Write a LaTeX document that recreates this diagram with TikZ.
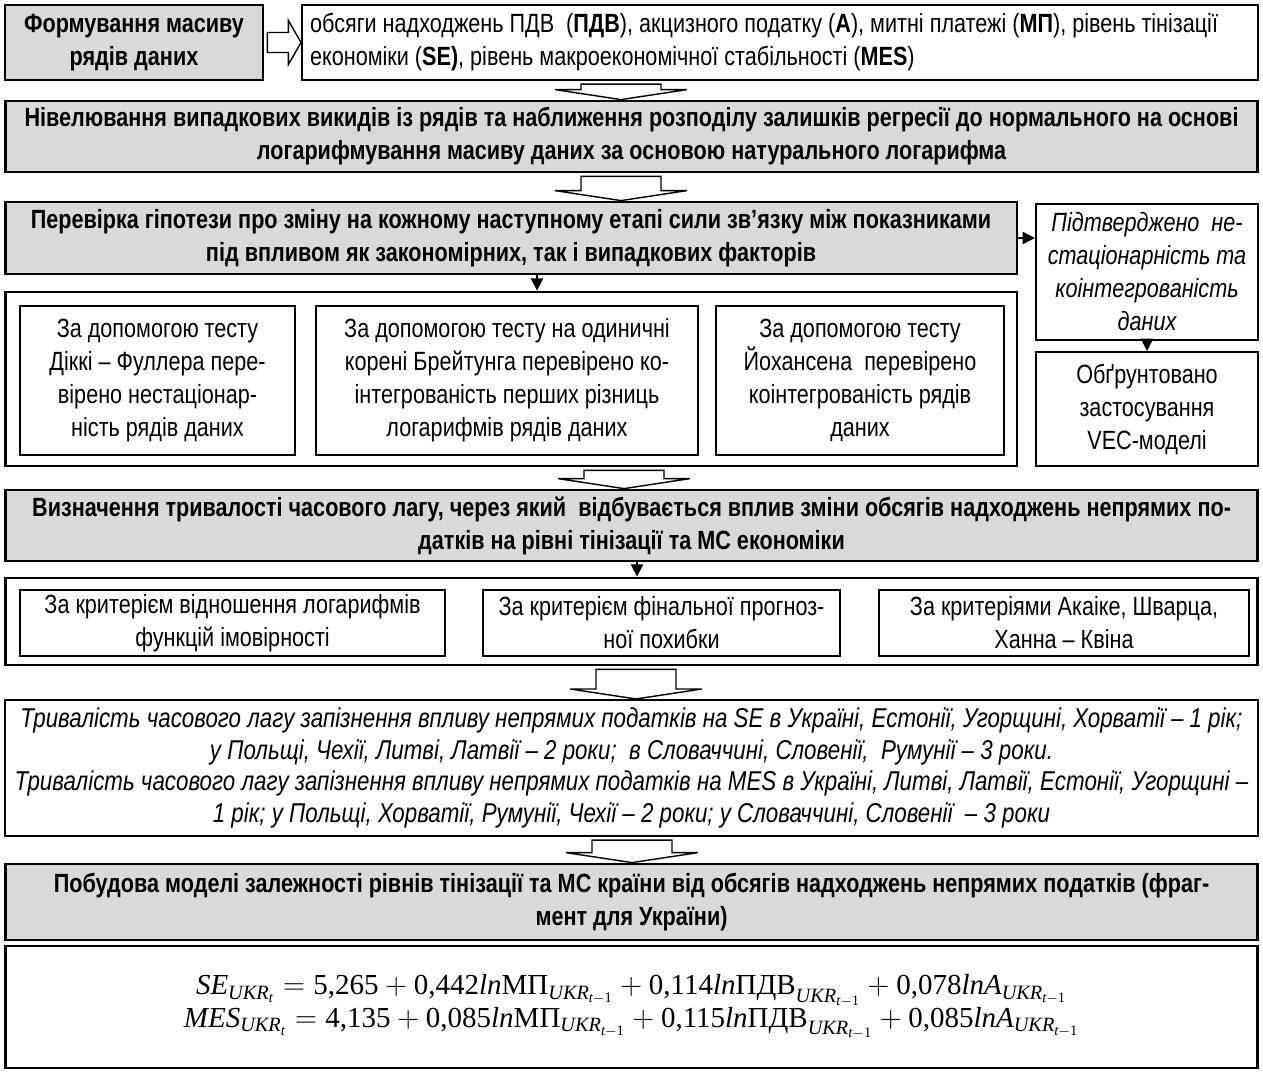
\documentclass[tikz,border=0pt]{standalone}
\usepackage{amsmath}
\usepackage[no-math]{fontspec}
\setmainfont{Liberation Sans}[FakeStretch=0.82]
\newfontfamily\eqfont{Liberation Serif}
\usetikzlibrary{calc,arrows.meta}

\newcommand{\boxfont}{\fontsize{15}{18.8}\selectfont}
% letters and numbers of the model equations
\newcommand{\mv}[1]{\text{\eqfont\itshape #1}}
\newcommand{\mn}[1]{\text{\eqfont #1}}
\newcommand{\lagged}{_{\mv{UKR}_{\mv{t}-\mn{1}}}}
% hollow block arrow between two boxes, x taken from a named coordinate
\newcommand{\bigdown}[3]{%
  \draw[hollow] ($(#1.south -| #3)+(-40,3)$) -- ($(#2.north -| #3)+(-40,-10)$)
    -- ($(#2.north -| #3)+(-66,-10)$) -- (#2.north -| #3)
    -- ($(#2.north -| #3)+(66,-10)$) -- ($(#2.north -| #3)+(40,-10)$)
    -- ($(#1.south -| #3)+(40,3)$) -- cycle;}

\begin{document}
\begin{tikzpicture}[x=0.02cm,y=-0.02cm,
  greybox/.style={draw,line width=1.6pt,fill=black!15,font=\boxfont\bfseries,align=center,inner sep=0pt},
  plainbox/.style={draw,line width=1.2pt,fill=white,font=\boxfont,align=center,inner sep=0pt},
  testbox/.style={draw,line width=0.8pt,fill=white,font=\boxfont,align=center,inner sep=0pt},
  holder/.style={draw,line width=1.6pt,fill=white,inner sep=0pt},
  hollow/.style={draw,fill=white,line width=0.8pt},
  tip/.style={line width=0.8pt,-{Triangle[length=7pt,width=7pt]}}]
  \useasboundingbox (0,0) rectangle (1263,1072);

  % axes of the hollow arrows
  \coordinate (ax1) at (621,0);
  \coordinate (ax2) at (621,0);
  \coordinate (ax3) at (624,0);
  \coordinate (ax4) at (636,0);
  \coordinate (ax5) at (632,0);
  \coordinate (tx1) at (537,0);
  \coordinate (tx2) at (637,0);

  % first row
  \node[greybox, minimum width=5.16cm, minimum height=1.5cm] (form) at (134,42.5) {Формування масиву\\рядів даних};
  \node[plainbox, text width=18.8cm, align=flush left, inner sep=0.16cm, minimum height=1.5cm] (data) at (780,42.5)
    {обсяги надходжень ПДВ~ (\textbf{ПДВ}), акцизного податку (\textbf{А}), митні платежі (\textbf{МП}), рівень тінізації\\
     економіки (\textbf{SE)}, рівень макроекономічної стабільності (\textbf{MES})};
  \draw[hollow] ($(form.east)+(3,-10)$) -- ($(form.east)+(24,-10)$) -- ($(form.east)+(24,-22)$)
    -- (data.west |- form.east) -- ($(form.east)+(24,22)$) -- ($(form.east)+(24,10)$)
    -- ($(form.east)+(3,10)$) -- cycle;

  \node[greybox, minimum width=25.06cm, minimum height=1.42cm] (nivel) at (631.5,136.5)
    {Нівелювання випадкових викидів із рядів та наближення розподілу залишків регресії до нормального на основі\\
     логарифмування масиву даних за основою натурального логарифма};

  \node[greybox, minimum width=20.24cm, minimum height=1.44cm] (perev) at (511,238)
    {Перевірка гіпотези про зміну на кожному наступному етапі сили зв’язку між показниками\\
     під впливом як закономірних, так і випадкових факторів};
  \node[plainbox, font=\boxfont\itshape, minimum width=4.44cm, minimum height=2.72cm] (confirm) at (1147,272)
    {Підтверджено~ не-\\стаціонарність та\\коінтегрованість\\даних};
  \node[plainbox, minimum width=4.44cm, minimum height=2.28cm] (justify) at (1147,409)
    {Обґрунтовано\\застосування\\VEC-моделі};

  % tests of the series
  \node[holder, minimum width=20.24cm, minimum height=3.48cm] (tests) at (511,379) {};
  \node[testbox, minimum width=5.5cm, minimum height=2.98cm] (dickey) at (157.5,380.5)
    {За допомогою тесту\\Діккі – Фуллера пере-\\вірено нестаціонар-\\ність рядів даних};
  \node[testbox, minimum width=7.64cm, minimum height=2.98cm] (breit) at (507,380.5)
    {За допомогою тесту на одиничні\\корені Брейтунга перевірено ко-\\інтегрованість перших різниць\\логарифмів рядів даних};
  \node[testbox, minimum width=5.76cm, minimum height=2.98cm] (johan) at (860,380.5)
    {За допомогою тесту\\Йохансена~ перевірено\\коінтегрованість рядів\\даних};

  \node[greybox, minimum width=25.06cm, minimum height=1.42cm] (lag) at (631.5,525.5)
    {Визначення тривалості часового лагу, через який~ відбувається вплив зміни обсягів надходжень непрямих по-\\
     датків на рівні тінізації та МС економіки};

  % criteria
  \node[holder, minimum width=25.06cm, minimum height=1.74cm] (crit) at (631.5,621.5) {};
  \node[testbox, minimum width=8.5cm, minimum height=1.32cm] (ratio) at (232.5,623)
    {За критерієм відношення логарифмів\\функцій імовірності};
  \node[testbox, minimum width=7.14cm, minimum height=1.32cm] (fpe) at (661.5,623)
    {За критерієм фінальної прогноз-\\ної похибки};
  \node[testbox, minimum width=7.4cm, minimum height=1.32cm] (aic) at (1064,623)
    {За критеріями Акаіке, Шварца,\\Ханна – Квіна};

  \node[plainbox, font=\fontsize{15.5}{18}\selectfont\itshape, minimum width=25.06cm, minimum height=2.72cm] (result) at (631.5,768)
    {Тривалість часового лагу запізнення впливу непрямих податків на SE в Україні, Естонії, Угорщині, Хорватії – 1 рік;\\
     у Польщі, Чехії, Литві, Латвії – 2 роки;~ в Словаччині, Словенії,~ Румунії – 3 роки.\\
     Тривалість часового лагу запізнення впливу непрямих податків на MES в Україні, Литві, Латвії, Естонії, Угорщині –\\
     1 рік; у Польщі, Хорватії, Румунії, Чехії – 2 роки; у Словаччині, Словенії~ – 3 роки};

  \node[greybox, minimum width=25.06cm, minimum height=1.52cm] (model) at (631.5,902)
    {Побудова моделі залежності рівнів тінізації та МС країни від обсягів надходжень непрямих податків (фраг-\\
     мент для України)};
  \node[holder, font=\fontsize{16.5}{18.5}\selectfont, align=center, minimum width=25.06cm, minimum height=2.44cm] (eq) at (631.5,1007)
    {$\mv{SE}_{\mv{UKR}_{\mv{t}}}=\mn{5,265}+\mn{0,442}\mv{ln}\mn{МП}\lagged+\mn{0,114}\mv{ln}\mn{ПДВ}\lagged+\mn{0,078}\mv{lnA}\lagged$\\
     $\mv{MES}_{\mv{UKR}_{\mv{t}}}=\mn{4,135}+\mn{0,085}\mv{ln}\mn{МП}\lagged+\mn{0,115}\mv{ln}\mn{ПДВ}\lagged+\mn{0,085}\mv{lnA}\lagged$};

  % connectors
  \bigdown{data}{nivel}{ax1}
  \bigdown{nivel}{perev}{ax2}
  \bigdown{tests}{lag}{ax3}
  \bigdown{crit}{result}{ax4}
  \bigdown{result}{model}{ax5}
  \draw[tip] (perev.south -| tx1) -- (tests.north -| tx1);
  \draw[tip] (lag.south -| tx2) -- (crit.north -| tx2);
  \draw[tip] (perev.east) -- (confirm.west |- perev.east);
  \draw[tip] (confirm.south) -- (justify.north);
\end{tikzpicture}
\end{document}
